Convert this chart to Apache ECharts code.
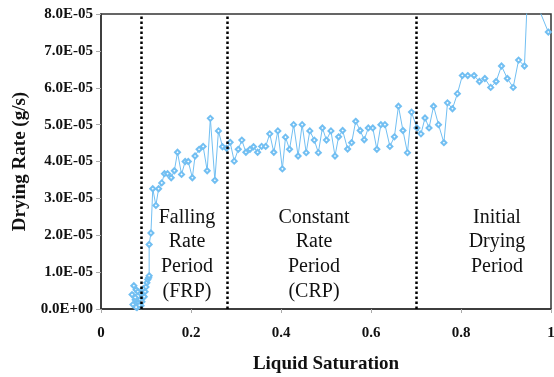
<!DOCTYPE html>
<html>
<head>
<meta charset="utf-8">
<script src="https://cdn.jsdelivr.net/npm/echarts@6/dist/echarts.min.js"></script>
<style>
  html, body { margin: 0; padding: 0; background: #fff; }
  #chart { width: 554px; height: 377px; }
</style>
</head>
<body>
<div id="chart"></div>
<script>
// liquid saturation (x) and drying rate in g/s (y)
const saturation = [
  0.071, 0.076, 0.069, 0.078, 0.073, 0.082, 0.076, 0.084, 0.080, 0.089,
  0.087, 0.093, 0.091, 0.096, 0.085, 0.078, 0.088, 0.094, 0.098, 0.100,
  0.102, 0.104, 0.106, 0.107, 0.107, 0.111, 0.115, 0.122, 0.128, 0.135,
  0.141, 0.148, 0.156, 0.163, 0.170, 0.179, 0.187, 0.194, 0.203, 0.209,
  0.218, 0.227, 0.236, 0.243, 0.253, 0.261, 0.270, 0.279, 0.287, 0.296,
  0.305, 0.313, 0.322, 0.331, 0.339, 0.348, 0.357, 0.366, 0.375, 0.384,
  0.393, 0.403, 0.410, 0.419, 0.428, 0.438, 0.447, 0.456, 0.464, 0.474,
  0.483, 0.492, 0.501, 0.511, 0.520, 0.528, 0.537, 0.548, 0.557, 0.566,
  0.576, 0.585, 0.594, 0.604, 0.613, 0.622, 0.631, 0.642, 0.652, 0.661,
  0.671, 0.681, 0.690, 0.702, 0.711, 0.720, 0.729, 0.739, 0.750, 0.762,
  0.770, 0.781, 0.792, 0.803, 0.815, 0.829, 0.841, 0.853, 0.866, 0.878,
  0.890, 0.903, 0.916, 0.928, 0.941, 0.948, 0.977, 0.994
];
const dryingRate = [
  0.12e-5, 0.25e-5, 0.39e-5, 0.52e-5, 0.63e-5, 0.47e-5, 0.31e-5, 0.17e-5, 0.04e-5, 0.09e-5,
  0.25e-5, 0.36e-5, 0.20e-5, 0.33e-5, 0.10e-5, 0.05e-5, 0.42e-5, 0.55e-5, 0.47e-5, 0.60e-5,
  0.71e-5, 0.80e-5, 0.85e-5, 0.90e-5, 1.75e-5, 2.06e-5, 3.26e-5, 2.81e-5, 3.26e-5, 3.42e-5,
  3.67e-5, 3.67e-5, 3.56e-5, 3.75e-5, 4.25e-5, 3.65e-5, 4.00e-5, 4.00e-5, 3.56e-5, 4.15e-5,
  4.33e-5, 4.41e-5, 3.75e-5, 5.17e-5, 3.49e-5, 4.83e-5, 4.40e-5, 4.36e-5, 4.52e-5, 4.01e-5,
  4.33e-5, 4.58e-5, 4.25e-5, 4.33e-5, 4.40e-5, 4.25e-5, 4.41e-5, 4.41e-5, 4.75e-5, 4.25e-5,
  4.83e-5, 3.80e-5, 4.66e-5, 4.33e-5, 5.00e-5, 4.15e-5, 5.00e-5, 4.24e-5, 4.83e-5, 4.58e-5,
  4.24e-5, 4.91e-5, 4.58e-5, 4.83e-5, 4.15e-5, 4.67e-5, 4.84e-5, 4.34e-5, 4.51e-5, 5.09e-5,
  4.84e-5, 4.59e-5, 4.91e-5, 4.91e-5, 4.33e-5, 5.00e-5, 5.00e-5, 4.41e-5, 4.67e-5, 5.50e-5,
  4.84e-5, 4.24e-5, 5.34e-5, 4.91e-5, 4.75e-5, 5.18e-5, 4.91e-5, 5.50e-5, 5.00e-5, 4.51e-5,
  5.59e-5, 5.43e-5, 5.84e-5, 6.33e-5, 6.33e-5, 6.33e-5, 6.17e-5, 6.25e-5, 6.01e-5, 6.17e-5,
  6.59e-5, 6.25e-5, 6.01e-5, 6.75e-5, 6.59e-5, 8.60e-5, 8.02e-5, 7.51e-5
];
// period boundaries (dotted lines)
const boundaries = [0.087, 0.28, 0.703];
const periodLabels = [
  'Falling\nRate\nPeriod\n(FRP)',
  'Constant\nRate\nPeriod\n(CRP)',
  'Initial\nDrying\nPeriod'
];

const serif = '"Liberation Serif", "DejaVu Serif", serif';
const lineColor = '#72bff2';

const chart = echarts.init(document.getElementById('chart'));

const option = {
  animation: false,
  grid: {
    left: 101, right: 3, top: 14, bottom: 68,
    outerBoundsMode: 'none',
    show: true, borderColor: '#333', borderWidth: 1.5
  },
  xAxis: {
    type: 'value',
    min: 0, max: 1, interval: 0.2,
    name: 'Liquid Saturation',
    nameLocation: 'middle',
    nameGap: 46,
    nameTextStyle: { fontFamily: serif, fontWeight: 'bold', fontSize: 19, color: '#111' },
    axisLine: { show: true, lineStyle: { color: '#333', width: 1.5 } },
    axisTick: { show: true, length: 4, lineStyle: { color: '#aaa' } },
    axisLabel: {
      fontFamily: serif, fontWeight: 'bold', fontSize: 15, color: '#111', margin: 17,
      formatter: v => String(Math.round(v * 10) / 10)
    },
    splitLine: { show: false }
  },
  yAxis: {
    type: 'value',
    min: 0, max: 8e-5, interval: 1e-5,
    name: 'Drying Rate (g/s)',
    nameLocation: 'middle',
    nameGap: 67,
    nameTextStyle: { fontFamily: serif, fontWeight: 'bold', fontSize: 19, color: '#111' },
    axisLine: { show: true, lineStyle: { color: '#333', width: 1.5 } },
    axisTick: { show: true, length: 5, lineStyle: { color: '#aaa' } },
    axisLabel: {
      fontFamily: serif, fontWeight: 'bold', fontSize: 15, color: '#111', margin: 8,
      formatter: v => v === 0 ? '0.0E+00' : (v / 1e-5).toFixed(1) + 'E-05'
    },
    splitLine: { show: false }
  },
  series: [{
    type: 'line',
    data: saturation.map((x, i) => [x, dryingRate[i]]),
    symbol: 'emptyDiamond',
    symbolSize: 5,
    clip: true,
    lineStyle: { color: lineColor, width: 1 },
    itemStyle: { color: lineColor, borderWidth: 1 },
    markLine: {
      silent: true,
      symbol: 'none',
      label: { show: false },
      lineStyle: { color: '#000', type: [2.5, 2.5], width: 2.5 },
      data: boundaries.map(x => ({ xAxis: x }))
    }
  }],
  graphic: [
    { x: 187, y: 205, text: periodLabels[0] },
    { x: 314, y: 205, text: periodLabels[1] },
    { x: 497, y: 205, text: periodLabels[2] }
  ].map(t => ({
    type: 'text', x: t.x, y: t.y, z: 100,
    style: {
      text: t.text, fill: '#111', font: '20px ' + serif,
      align: 'center', verticalAlign: 'top', lineHeight: 24.8
    }
  }))
};

chart.setOption(option);
</script>
</body>
</html>
